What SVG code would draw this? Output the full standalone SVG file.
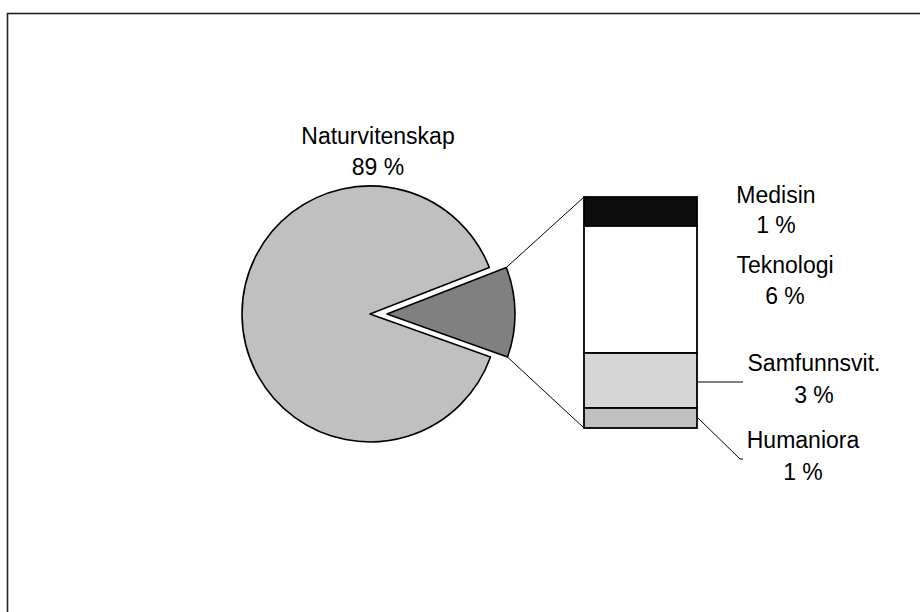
<svg xmlns="http://www.w3.org/2000/svg" width="920" height="612" viewBox="0 0 920 612">
<style>
text{font-family:"Liberation Sans",Arial,sans-serif;font-size:23px;fill:#000;text-anchor:middle}
.sl{stroke:#000;stroke-width:1.6;stroke-linejoin:round}
.seg{stroke:#000;stroke-width:1.8}
.ld{stroke:#000;stroke-width:1;fill:none}
</style>
<rect x="7.5" y="13.5" width="960" height="660" fill="#fff" stroke="#222" stroke-width="1.6"/>
<g id="pie-naturvitenskap">
<path class="sl" fill="#c0c0c0" d="M370,314 L489.3,267.5 A128,128 0 1 0 490.5,357.1 Z"/>
<text x="378" y="144">Naturvitenskap</text>
<text x="378" y="175">89 %</text>
</g>
<g id="pie-andre">
<path class="sl" fill="#808080" d="M387,314 L506.3,267.5 A128,128 0 0 1 507.5,357.1 Z"/>
</g>
<g id="bar-medisin">
<rect class="seg" x="584" y="197" width="113" height="29" fill="#0c0c0c"/>
<text x="776" y="203">Medisin</text>
<text x="776" y="233">1 %</text>
</g>
<g id="bar-teknologi">
<rect class="seg" x="584" y="226" width="113" height="127" fill="#fff"/>
<text x="785" y="273">Teknologi</text>
<text x="785" y="304">6 %</text>
</g>
<g id="bar-samfunnsvit">
<rect class="seg" x="584" y="353" width="113" height="55" fill="#d6d6d6"/>
<text x="814" y="371">Samfunnsvit.</text>
<text x="814" y="403">3 %</text>
</g>
<g id="bar-humaniora">
<rect class="seg" x="584" y="408" width="113" height="20" fill="#c0c0c0"/>
<text x="803" y="448">Humaniora</text>
<text x="803" y="480">1 %</text>
</g>
<g id="connectors">
<line class="ld" x1="506.3" y1="267.5" x2="584" y2="197"/>
<line class="ld" x1="507.5" y1="357.1" x2="584" y2="428"/>
<line class="ld" x1="698" y1="382" x2="743" y2="382"/>
<polyline class="ld" points="698,418 740,459 743,459"/>
</g>
</svg>
